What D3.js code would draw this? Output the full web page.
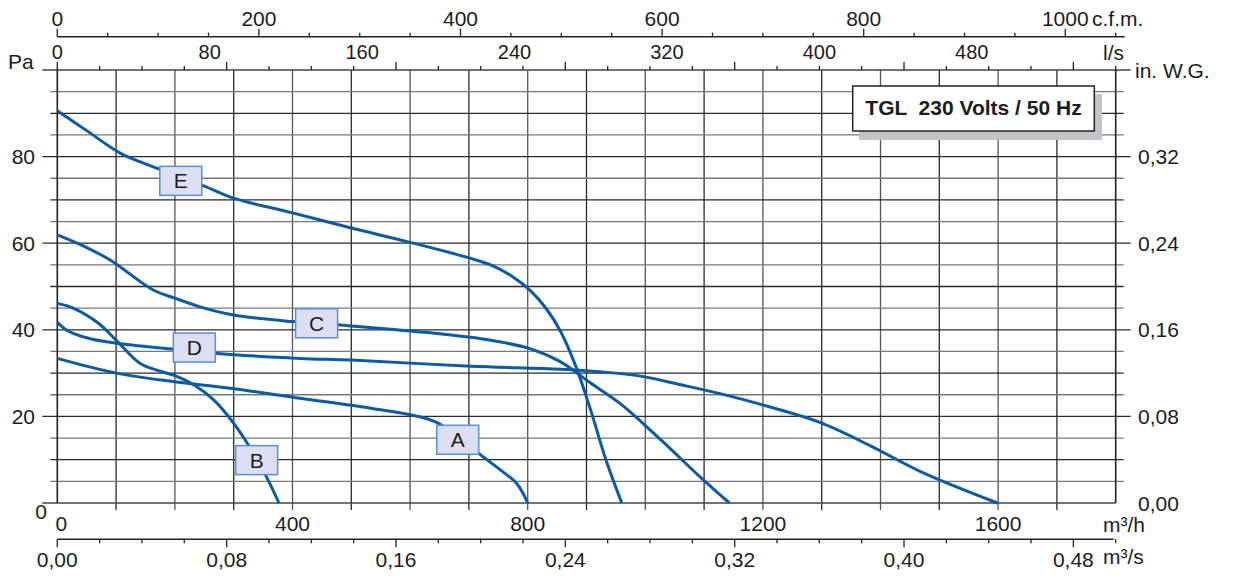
<!DOCTYPE html>
<html>
<head>
<meta charset="utf-8">
<script src="https://cdn.jsdelivr.net/npm/d3@7"></script>
<style>
body { margin: 0; background: #fff; }
text { font-family: "Liberation Sans", Arial, sans-serif; fill: #1c1c1c; }
</style>
</head>
<body>
<svg id="chart" width="1233" height="576"></svg>
<script>
// fan curves, [m3/h, Pa]
const curveA = [[0, 33.4], [100, 30.0], [200, 28.0], [300, 26.4], [413, 24.2], [533, 21.9], [610, 20.1], [645, 18.6], [685, 15.0], [720, 11.1], [754, 7.6], [782, 4.4], [800, 0]];
const curveB = [[0, 46.1], [27, 45.0], [70, 41.5], [100, 37.6], [141, 32.2], [169, 30.7], [200, 29.4], [232, 27.3], [266, 23.8], [300, 18.4], [325, 13.4], [354, 6.5], [377, 0]];
const curveC = [[0, 61.9], [50, 59.0], [90, 56.1], [163, 49.2], [200, 47.3], [250, 45.0], [300, 43.4], [400, 41.9], [500, 40.9], [635, 39.3], [737, 37.6], [805, 35.6], [856, 32.6], [907, 27.7], [958, 22.9], [1027, 14.5], [1095, 5.8], [1143, 0]];
const curveD = [[0, 41.7], [13, 40.2], [27, 39.2], [60, 37.8], [100, 36.9], [200, 35.5], [267, 34.6], [413, 33.4], [500, 33.0], [703, 31.6], [856, 30.9], [924, 30.3], [992, 29.3], [1061, 27.3], [1129, 25.2], [1214, 22.1], [1299, 18.5], [1383, 13.2], [1469, 7.2], [1599, 0]];
const curveE = [[0, 90.6], [50, 86.0], [107, 80.8], [150, 78.3], [200, 75.8], [250, 73.2], [300, 70.4], [400, 67.0], [500, 63.5], [600, 60.2], [700, 56.6], [740, 54.8], [775, 52.2], [805, 49.0], [832, 44.8], [856, 39.6], [882, 31.5], [907, 21.5], [933, 10.0], [960, 0]];

const curveNames = ["A", "B", "C", "D", "E"];
// label box centres, [m3/h, Pa]
const labelPos = [[681, 14.6], [339, 9.9], [441, 41.5], [233, 35.9], [210, 74.4]];

const paTicks = [0, 20, 40, 60, 80];
const inwgLabels = ["0,00", "0,08", "0,16", "0,24", "0,32"];
const m3hTicks = [0, 400, 800, 1200, 1600];
const m3sTicks = [0, 0.08, 0.16, 0.24, 0.32, 0.40, 0.48];
const cfmTicks = [0, 200, 400, 600, 800, 1000];
const lsTicks = [0, 80, 160, 240, 320, 400, 480];

const title = "TGL  230 Volts / 50 Hz";

const svg = d3.select("#chart");
const x0 = 57.3, x1 = 1115.7, yTop = 70, yBot = 503;

const x = d3.scaleLinear().domain([0, 1800]).range([x0, x1]);
const y = d3.scaleLinear().domain([0, 100]).range([yBot, yTop]);
const yIn = d3.scaleLinear().domain([0, 0.40]).range([yBot, yTop]);
const xCfm = d3.scaleLinear().domain([0, 1050]).range([x0, x1]);
const xLs = d3.scaleLinear().domain([0, 500]).range([x0, x1]);
// the l/s numbers in the original sit a bit left of their ticks
const xLsLabel = d3.scaleLinear().domain([0, 500]).range([x0, x0 + 0.9 * (x1 - x0)]);
const xM3s = d3.scaleLinear().domain([0, 0.5]).range([x0, x1]);

const fmtComma = (v) => d3.format(".2f")(v).replace(".", ",");

// grid - vertical
svg.append("g")
    .selectAll("line")
    .data(d3.range(100, 1800, 100))
    .enter()
    .append("line")
    .attr("x1", (d) => x(d))
    .attr("x2", (d) => x(d))
    .attr("y1", yTop)
    .attr("y2", yBot + 7)
    .attr("stroke", (d) => d % 200 == 0 ? "#555" : "#2a2a2a")
    .attr("stroke-width", 1.3);

// grid - horizontal
svg.append("g")
    .selectAll("line")
    .data(d3.range(5, 100, 5))
    .enter()
    .append("line")
    .attr("x1", (d) => d % 20 == 0 ? x0 - 15 : x0 - 7)
    .attr("x2", (d) => d % 20 == 0 ? x1 + 15 : x1 + 8)
    .attr("y1", (d) => y(d))
    .attr("y2", (d) => y(d))
    .attr("stroke", (d) => d % 10 == 0 ? "#2a2a2a" : "#777")
    .attr("stroke-width", 1.3);

// frame
svg.append("line").attr("x1", x0 - 15).attr("x2", x1).attr("y1", yBot).attr("y2", yBot)
    .attr("stroke", "#444").attr("stroke-width", 1.6);
svg.append("line").attr("x1", x0 - 15).attr("x2", x1 + 15).attr("y1", yTop).attr("y2", yTop)
    .attr("stroke", "#444").attr("stroke-width", 1.6);
svg.append("line").attr("x1", x0).attr("x2", x0).attr("y1", yTop).attr("y2", yBot)
    .attr("stroke", "#222").attr("stroke-width", 1.6);
svg.append("line").attr("x1", x1).attr("x2", x1).attr("y1", yTop).attr("y2", yBot)
    .attr("stroke", "#222").attr("stroke-width", 1.6);

// left Pa labels
svg.append("g")
    .selectAll("text")
    .data(paTicks)
    .enter()
    .append("text")
    .attr("x", (d) => d == 0 ? 47 : 35)
    .attr("y", (d) => d == 0 ? y(d) + 8 : y(d))
    .attr("dy", "0.36em")
    .attr("text-anchor", "end")
    .attr("font-size", "21px")
    .text((d) => d);
svg.append("text").attr("x", 8).attr("y", yTop - 1).attr("font-size", "21px").text("Pa");

// right in. W.G. labels
svg.append("g")
    .selectAll("text")
    .data(inwgLabels)
    .enter()
    .append("text")
    .attr("x", 1138)
    .attr("y", (d) => yIn(+d.replace(",", ".")))
    .attr("dy", "0.36em")
    .attr("font-size", "21px")
    .text((d) => d);
svg.append("text").attr("x", 1135).attr("y", yTop).attr("dy", "0.36em")
    .attr("font-size", "21px").text("in. W.G.");

// bottom m3/h labels
svg.append("g")
    .selectAll("text")
    .data(m3hTicks)
    .enter()
    .append("text")
    .attr("x", (d) => d == 0 ? x(d) + 4 : x(d))
    .attr("y", 523)
    .attr("dy", "0.36em")
    .attr("text-anchor", "middle")
    .attr("font-size", "21px")
    .text((d) => d);
svg.append("text").attr("x", 1103).attr("y", 524).attr("dy", "0.36em")
    .attr("font-size", "21px").text("m³/h");

// m3/s axis
const yM3s = 539.3;
svg.append("line").attr("x1", x0).attr("x2", x1 - 2).attr("y1", yM3s).attr("y2", yM3s)
    .attr("stroke", "#222").attr("stroke-width", 1.6);
svg.append("g")
    .selectAll("line")
    .data(d3.range(0, 26).map((i) => i * 0.02))
    .enter()
    .append("line")
    .attr("x1", (d) => xM3s(d))
    .attr("x2", (d) => xM3s(d))
    .attr("y1", yM3s)
    .attr("y2", (d, i) => i % 4 == 0 ? yM3s + 8 : yM3s + 4)
    .attr("stroke", "#222")
    .attr("stroke-width", 1.3);
svg.append("g")
    .selectAll("text")
    .data(m3sTicks)
    .enter()
    .append("text")
    .attr("x", (d) => xM3s(d))
    .attr("y", 559)
    .attr("dy", "0.36em")
    .attr("text-anchor", "middle")
    .attr("font-size", "21px")
    .text((d) => fmtComma(d));
svg.append("text").attr("x", 1103).attr("y", 556).attr("dy", "0.36em")
    .attr("font-size", "21px").text("m³/s");

// top c.f.m. axis
const yCfm = 36.7;
svg.append("line").attr("x1", x0).attr("x2", x1 + 9).attr("y1", yCfm).attr("y2", yCfm)
    .attr("stroke", "#222").attr("stroke-width", 1.6);
svg.append("g")
    .selectAll("line")
    .data(d3.range(0, 1051, 50))
    .enter()
    .append("line")
    .attr("x1", (d) => xCfm(d))
    .attr("x2", (d) => xCfm(d))
    .attr("y1", yCfm)
    .attr("y2", (d) => d % 200 == 0 ? yCfm - 8 : yCfm - 4)
    .attr("stroke", "#222")
    .attr("stroke-width", 1.3);
svg.append("g")
    .selectAll("text")
    .data(cfmTicks)
    .enter()
    .append("text")
    .attr("x", (d) => xCfm(d))
    .attr("y", 18)
    .attr("dy", "0.36em")
    .attr("text-anchor", "middle")
    .attr("font-size", "21px")
    .text((d) => d);
svg.append("text").attr("x", 1092).attr("y", 18).attr("dy", "0.36em")
    .attr("font-size", "21px").text("c.f.m.");

// top l/s axis (on the plot's top line)
svg.append("g")
    .selectAll("line")
    .data(d3.range(0, 501, 20))
    .enter()
    .append("line")
    .attr("x1", (d) => xLs(d))
    .attr("x2", (d) => xLs(d))
    .attr("y1", yTop)
    .attr("y2", (d) => d % 80 == 0 ? yTop - 8 : yTop - 4)
    .attr("stroke", "#222")
    .attr("stroke-width", 1.3);
svg.append("g")
    .selectAll("text")
    .data(lsTicks)
    .enter()
    .append("text")
    .attr("x", (d) => xLsLabel(d))
    .attr("y", 52)
    .attr("dy", "0.36em")
    .attr("text-anchor", "middle")
    .attr("font-size", "20px")
    .text((d) => d);
svg.append("text").attr("x", 1103).attr("y", 52).attr("dy", "0.36em")
    .attr("font-size", "21px").text("l/s");

// curves
const line = d3.line()
    .x((d) => x(d[0]))
    .y((d) => y(d[1]))
    .curve(d3.curveCatmullRom.alpha(0.5));

svg.append("g")
    .selectAll("path")
    .data([curveA, curveB, curveC, curveD, curveE])
    .enter()
    .append("path")
    .attr("d", line)
    .attr("fill", "none")
    .attr("stroke", "#0b5aa6")
    .attr("stroke-width", 3);

// curve label boxes
const lbl = svg.append("g")
    .selectAll("g")
    .data(curveNames)
    .enter()
    .append("g")
    .attr("transform", (d, i) => `translate(${x(labelPos[i][0])}, ${y(labelPos[i][1])})`);
lbl.append("rect")
    .attr("x", -21)
    .attr("y", -14.5)
    .attr("width", 42)
    .attr("height", 29)
    .attr("fill", "#dcdff4")
    .attr("stroke", "#5a8ed3")
    .attr("stroke-width", 1.5);
lbl.append("text")
    .attr("text-anchor", "middle")
    .attr("dy", "0.36em")
    .attr("font-size", "21px")
    .text((d) => d);

// title box with shadow
svg.append("rect").attr("x", 859).attr("y", 94).attr("width", 243).attr("height", 46)
    .attr("fill", "#c3c3c8");
svg.append("rect").attr("x", 852.7).attr("y", 86).attr("width", 241.6).attr("height", 45)
    .attr("fill", "#fff").attr("stroke", "#222").attr("stroke-width", 1.5);
svg.append("text").attr("x", 973.5).attr("y", 107).attr("dy", "0.36em")
    .attr("text-anchor", "middle")
    .attr("font-size", "21px")
    .attr("font-weight", "bold")
    .style("white-space", "pre")
    .text(title);
</script>
</body>
</html>
